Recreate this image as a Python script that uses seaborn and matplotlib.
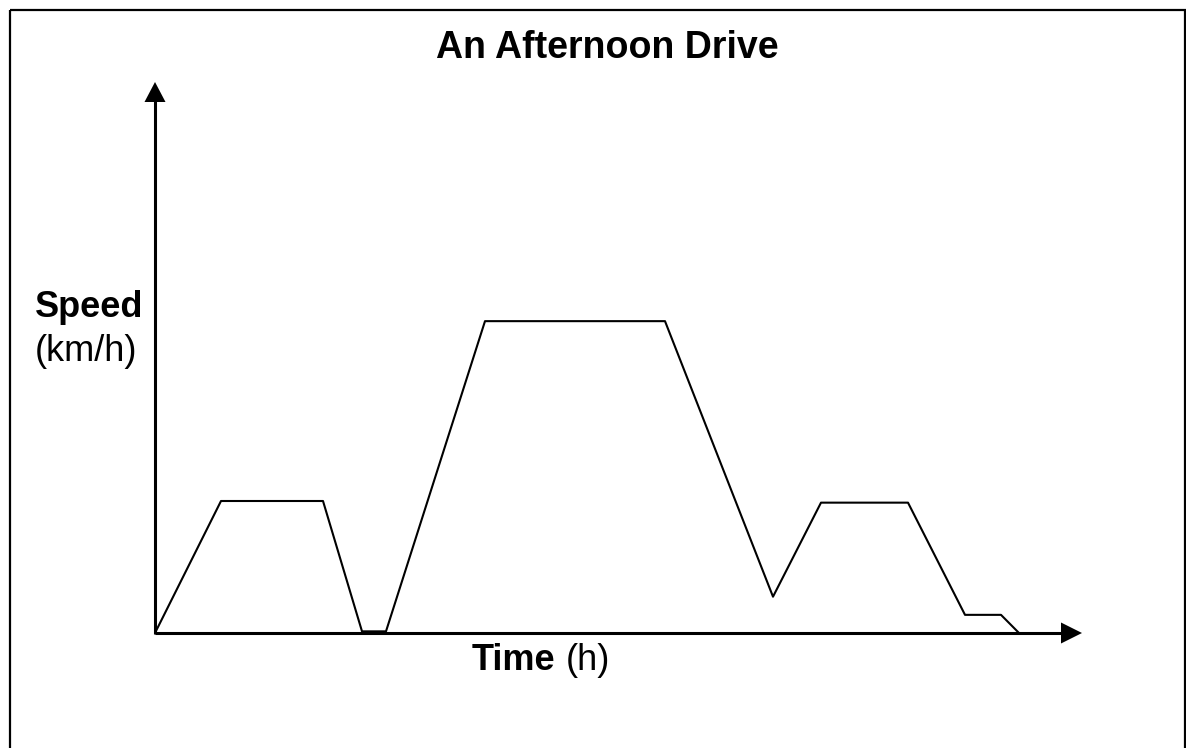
import matplotlib
matplotlib.use("Agg")
import matplotlib.pyplot as plt
from matplotlib.patches import Rectangle, Polygon
import seaborn as sns

# Speed profile of the drive: time (min) and speed (km/h)
time_min = [0, 11, 28, 34.5, 38.5, 55, 85, 103, 111, 125.5, 135, 141, 144]
speed_kmh = [0, 40, 40, 0.5, 0.5, 94.5, 94.5, 11, 39.5, 39.5, 5.5, 5.5, 0]

title = "An Afternoon Drive"
y_label_main, y_label_unit = "Speed", "(km/h)"
x_label_main, x_label_unit = "Time", "(h)"

sns.set_style("white")
plt.rcParams["font.family"] = ["Liberation Sans", "DejaVu Sans"]
plt.rcParams["text.color"] = "black"

W, H = 1186, 748
fig = plt.figure(figsize=(W / 100, H / 100), dpi=100)
fig.patch.set_facecolor("white")

# Overlay in pixel coordinates for frame, arrows and labels
deco = fig.add_axes([0, 0, 1, 1])
deco.set_xlim(0, W)
deco.set_ylim(H, 0)
deco.axis("off")

# Data axes: origin at (155, 633) px, x arrow tip at 1082, y arrow tip at 82
x0, y0, x1, y1 = 155, 633, 1082, 82
ax = fig.add_axes([x0 / W, (H - y0) / H, (x1 - x0) / W, (y0 - y1) / H])
ax.patch.set_alpha(0)
ax.set_xlim(0, (x1 - x0) / 6.0)
ax.set_ylim(0, (y0 - y1) / 3.3)
sns.despine(ax=ax, left=True, bottom=True)
ax.set_xticks([])
ax.set_yticks([])
ax.set_xlabel("")
ax.set_ylabel("")

sns.lineplot(x=time_min, y=speed_kmh, sort=False, color="black",
             linewidth=1.5, ax=ax, clip_on=False, estimator=None)

# Outer frame (bottom edge runs past the figure)
deco.add_patch(Rectangle((10, 9.5), 1175, 760, fill=False, edgecolor="black",
                         linewidth=1.6, clip_on=False))

# Axis arrows
axis_lw = 2.2
deco.plot([x0, 1062], [y0, y0], color="black", lw=axis_lw, solid_capstyle="butt")
deco.plot([x0, x0], [y0 + 1, 101], color="black", lw=axis_lw, solid_capstyle="butt")
deco.add_patch(Polygon([[x1, y0], [1061, y0 - 10.5], [1061, y0 + 10.5]],
                       closed=True, color="black", lw=0))
deco.add_patch(Polygon([[x0, y1], [x0 - 10.5, 102], [x0 + 10.5, 102]],
                       closed=True, color="black", lw=0))

# Texts
deco.text(607, 58, title, ha="center", va="baseline", fontsize=27,
          fontweight="bold", color="black")
deco.text(35, 317, y_label_main, ha="left", va="baseline", fontsize=26,
          fontweight="bold", color="black")
deco.text(35, 361, y_label_unit, ha="left", va="baseline", fontsize=26,
          color="black")
t_main = deco.text(472, 670, x_label_main, ha="left", va="baseline",
                   fontsize=26, fontweight="bold", color="black")
deco.annotate(x_label_unit, xy=(1, 0), xycoords=t_main, xytext=(7, 0),
              textcoords="offset points", ha="left", va="bottom", fontsize=26,
              color="black")

fig.savefig("out.png", dpi=100, facecolor="white")
